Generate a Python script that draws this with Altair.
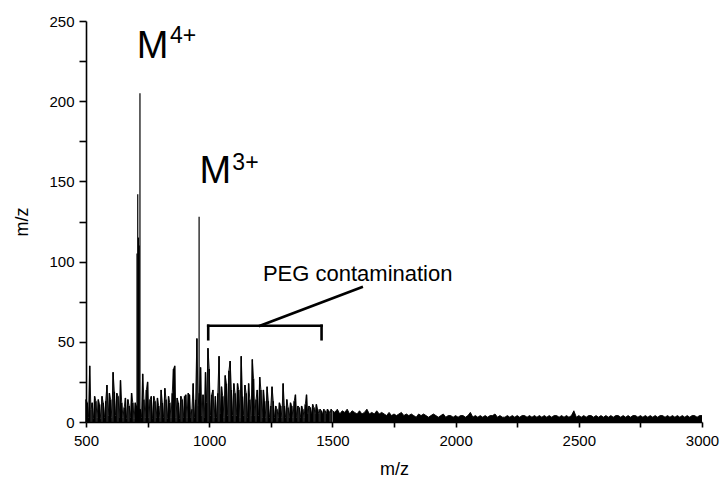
import altair as alt
import pandas as pd

# ---- spectrum intensities, 500-1495 m/z in steps of 5 ----
int_500 = [14, 12, 3, 35, 8, 12, 2, 16, 13, 3, 14, 11, 2, 16, 12, 3, 13, 23, 4, 18]
int_600 = [14, 3, 31, 19, 4, 18, 16, 3, 26, 12, 3, 9, 15, 2, 14, 10, 3, 18, 12, 2]
int_700 = [12, 10, 8, 8, 8, 3, 30, 14, 3, 20, 25, 3, 14, 16, 2, 16, 13, 3, 15, 10]
int_800 = [3, 20, 12, 3, 21, 14, 2, 16, 12, 3, 18, 33, 35, 3, 15, 12, 2, 16, 14, 3]
int_900 = [16, 17, 3, 18, 17, 3, 8, 24, 3, 14, 52, 10, 18, 34, 4, 17, 3, 31, 12, 46]
int_1000 = [33, 4, 17, 20, 3, 16, 3, 18, 41, 5, 22, 16, 3, 29, 24, 4, 32, 38, 20, 4]
int_1100 = [24, 18, 4, 24, 20, 3, 41, 16, 4, 23, 18, 3, 24, 14, 4, 39, 27, 4, 14, 20]
int_1200 = [4, 28, 20, 3, 20, 13, 3, 22, 13, 3, 10, 22, 13, 3, 10, 8, 3, 12, 10, 3]
int_1300 = [24, 10, 3, 14, 9, 3, 12, 10, 3, 13, 17, 3, 10, 9, 3, 10, 8, 3, 11, 17]
int_1400 = [5, 10, 9, 5, 11, 9, 5, 11, 8, 5, 8, 7, 5, 8, 7, 5, 8, 7, 5, 8]

# ---- 1500-3000 m/z in steps of 10 ----
int_1500 = [7, 6, 8, 5, 7, 6, 8, 5, 7, 6]
int_1600 = [5, 7, 5, 6, 8, 5, 6, 5, 7, 5]
int_1700 = [6, 5, 4, 6, 4, 5, 4, 5, 6, 4]
int_1800 = [5, 4, 5, 4, 3, 5, 4, 5, 4, 3]
int_1900 = [4, 5, 4, 3, 4, 5, 3, 4, 4, 3]
int_2000 = [4, 3, 4, 4, 3, 4, 6, 3, 4, 3]
int_2100 = [4, 3, 4, 3, 4, 4, 5, 3, 4, 3]
int_2200 = [3, 4, 3, 4, 3, 4, 3, 4, 4, 3]
int_2300 = [4, 3, 4, 3, 4, 3, 4, 3, 4, 3]
int_2400 = [4, 4, 3, 4, 3, 4, 3, 4, 7, 3]
int_2500 = [4, 3, 4, 3, 4, 4, 3, 4, 3, 4]
int_2600 = [3, 4, 3, 4, 3, 4, 4, 3, 4, 3]
int_2700 = [4, 3, 4, 4, 3, 4, 3, 4, 3, 4]
int_2800 = [3, 4, 3, 4, 4, 3, 4, 3, 4, 3]
int_2900 = [4, 3, 4, 3, 4, 3, 4, 4, 3, 4]
int_3000 = [4]

# ---- main ion peaks ----
peak_mz = [707, 710, 713, 716, 719, 959]
peak_int = [105, 142, 115, 110, 205, 128]

# ---- PEG bracket segments (data units) ----
seg_x1 = [996, 996, 1456, 1206]
seg_x2 = [1456, 996, 1456, 1619]
seg_y1 = [60, 60, 60, 60]
seg_y2 = [60, 51.6, 51.6, 84]

x_ticks = list(range(500, 3001, 250))
y_ticks = list(range(0, 251, 25))

intens_a = (int_500 + int_600 + int_700 + int_800 + int_900 + int_1000 +
            int_1100 + int_1200 + int_1300 + int_1400)
intens_b = (int_1500 + int_1600 + int_1700 + int_1800 + int_1900 + int_2000 +
            int_2100 + int_2200 + int_2300 + int_2400 + int_2500 + int_2600 +
            int_2700 + int_2800 + int_2900 + int_3000)
mz_a = list(range(500, 1500, 5))
mz_b = list(range(1500, 3001, 10))
spec_a = pd.DataFrame({"mz": mz_a, "intensity": intens_a})
spec_b = pd.DataFrame({"mz": mz_b, "intensity": intens_b})
spec_all = pd.DataFrame({"mz": mz_a + mz_b, "intensity": intens_a + intens_b})
peaks = pd.DataFrame({"mz": peak_mz, "intensity": peak_int})
segs = pd.DataFrame({"x1": seg_x1, "x2": seg_x2, "y1": seg_y1, "y2": seg_y2})

FONT = "Liberation Sans"
xscale = alt.Scale(domain=[500, 3000], nice=False, zero=False)
yscale = alt.Scale(domain=[0, 250], nice=False)

xaxis = alt.Axis(values=x_ticks, format="d", title="m/z",
                 labelExpr="datum.value % 500 === 0 ? datum.label : ''",
                 labelFlush=False, labelOverlap=False, tickSize=5,
                 labelPadding=6, titlePadding=12, grid=False)
yaxis = alt.Axis(values=y_ticks, format="d", title="m/z",
                 labelExpr="datum.value % 50 === 0 ? datum.label : ''",
                 labelOverlap=False, tickSize=7, labelPadding=5,
                 titlePadding=17, grid=False)

sticks = alt.Chart(spec_a).mark_rule(color="black", strokeWidth=1.5).encode(
    x=alt.X("mz:Q", scale=xscale, axis=xaxis),
    y=alt.Y("intensity:Q", scale=yscale, axis=yaxis),
    y2=alt.datum(0),
)
area_b = alt.Chart(spec_b).mark_area(color="black", interpolate="linear").encode(
    x=alt.X("mz:Q", scale=xscale),
    y=alt.Y("intensity:Q", scale=yscale),
)
trace = alt.Chart(spec_all).mark_line(color="black", strokeWidth=0.9).encode(
    x=alt.X("mz:Q", scale=xscale),
    y=alt.Y("intensity:Q", scale=yscale),
)
peak_rules = alt.Chart(peaks).mark_rule(color="black", strokeWidth=1.2).encode(
    x=alt.X("mz:Q", scale=xscale),
    y=alt.Y("intensity:Q", scale=yscale),
    y2=alt.datum(0),
)
bracket = alt.Chart(segs).mark_rule(color="black", strokeWidth=2.6, strokeCap="square").encode(
    x=alt.X("x1:Q", scale=xscale),
    x2="x2:Q",
    y=alt.Y("y1:Q", scale=yscale),
    y2="y2:Q",
)


def label(txt, x, y, size):
    df = pd.DataFrame({"x": [x], "y": [y], "t": [txt]})
    return alt.Chart(df).mark_text(
        align="left", baseline="alphabetic", font=FONT, fontSize=size, color="black"
    ).encode(
        x=alt.X("x:Q", scale=xscale),
        y=alt.Y("y:Q", scale=yscale),
        text="t:N",
    )


texts = [
    label("M", 705.5, 227.1, 38),
    label("4+", 841, 236.1, 23),
    label("M", 961, 148.8, 38),
    label("3+", 1094, 157.2, 23),
    label("PEG contamination", 1218, 88, 22),
]

chart = alt.layer(sticks, area_b, trace, peak_rules, bracket, *texts).properties(
    width=616, height=401,
    padding={"left": 86, "top": 21, "right": 21, "bottom": 68},
    autosize=alt.AutoSizeParams(type="none"),
).configure_view(stroke="transparent").configure_axis(
    domainColor="black", tickColor="black", labelColor="black", titleColor="black",
    domainWidth=1.6, tickWidth=1.6, labelFont=FONT, titleFont=FONT,
    labelFontSize=15, titleFontSize=18, titleFontWeight="normal",
)

chart.save("out.html", embed_options={"renderer": "svg", "actions": False})
